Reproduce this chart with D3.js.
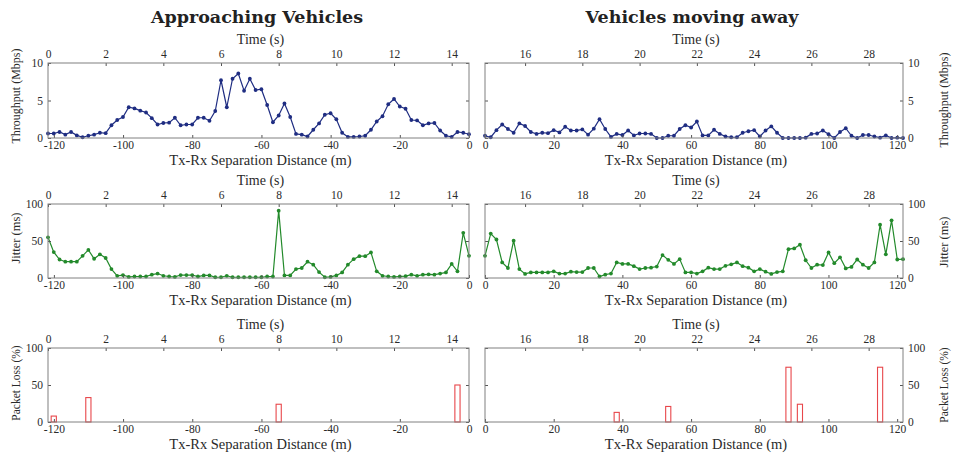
<!DOCTYPE html>
<html>
<head>
<meta charset="utf-8">
<script src="https://cdn.jsdelivr.net/npm/d3@7"></script>
<style>
  html, body { margin: 0; padding: 0; background: #fff; }
  svg { display: block; }
  text { font-family: "Liberation Serif", "Times New Roman", serif; fill: #2a2a2a; }
</style>
</head>
<body>
<svg id="chart" width="953" height="454"></svg>
<script>
// Sampling interval of the measurements (s) and vehicle speed mapping time to Tx-Rx distance
const SAMPLE_STEP = 0.2;
const PASS_TIME = 14.6;          // time at which the vehicle passes the receiver (s)
const PASS_DIST = 121.7;         // distance covered in each half of the run (m)

// Throughput (Mbps), one value every SAMPLE_STEP seconds
const throughputApproach = [
  0.6, 0.6, 0.8, 0.45, 0.8, 0.35, 0.1, 0.3, 0.45, 0.7,
  0.65, 1.7, 2.4, 2.8, 4.1, 3.95, 3.65, 3.4, 2.65, 1.8,
  2.0, 2.05, 2.7, 1.7, 1.8, 1.8, 2.7, 2.7, 2.3, 3.6,
  7.7, 4.1, 7.9, 8.6, 6.3, 7.9, 6.4, 6.5, 4.4, 2.1,
  3.0, 4.6, 2.8, 0.55, 0.45, 0.2, 1.1, 1.95, 3.1, 3.3,
  2.5, 0.7, 0.15, 0.15, 0.2, 0.3, 1.1, 2.2, 2.9, 4.5,
  5.2, 4.2, 3.9, 2.4, 2.35, 1.7, 1.95, 2.0, 1.0, 0.3,
  0.15, 0.8, 0.7, 0.5
];
const throughputAway = [
  0.3, 0.1, 1.05, 1.8, 1.2, 0.7, 1.95, 1.6, 0.8, 0.55,
  0.7, 0.65, 1.05, 0.75, 1.5, 1.0, 1.0, 1.15, 0.45, 1.25,
  2.5, 1.2, 0.15, 0.55, 0.4, 1.0, 0.35, 0.6, 0.6, 0.55,
  0, 0, 0.3, 0.3, 1.2, 1.7, 1.4, 2.2, 0.35, 0.35,
  1.1, 0.55, 0.2, 0.1, 0.1, 0.7, 0.9, 1.05, 0.2, 1.0,
  1.55, 0.7, 0, 0, 0, 0, 0.05, 0.55, 0.6, 1.0,
  0.5, 0, 0.8, 1.3, 0.3, 0, 0.4, 0.4, 0.2, 0.05,
  0.35, 0, 0.05, 0
];

// Jitter (ms)
const jitterApproach = [
  55, 35, 25, 22, 22, 22, 30, 38, 26, 32,
  27, 12, 3, 4, 1.5, 2, 2, 2, 4.5, 6,
  3, 2, 1.5, 4, 4, 4, 2, 3.5, 3.5, 1,
  1, 3, 1, 1, 1, 1, 1, 1, 2, 2,
  91, 3.5, 3.5, 12, 13.5, 22, 18, 8, 1, 1.5,
  3.5, 7.5, 18, 25.5, 29.5, 29.5, 34.5, 9, 3, 2,
  1.5, 2, 2.5, 4.5, 3, 4.5, 5, 4.5, 6, 7.5,
  19, 9, 61, 30
];
const jitterAway = [
  30, 60, 52, 21, 13.5, 50.5, 12, 5.5, 7.5, 7.5,
  7.5, 7.5, 9, 6, 6, 8.5, 8, 8, 13.5, 13.5,
  2, 4.5, 6, 21, 19, 19, 16, 12, 13.5, 14,
  15.5, 31, 24.5, 19, 25.5, 7.5, 7.5, 6, 9, 14,
  12, 12, 16.5, 18.5, 21, 16, 14, 9, 12, 8.5,
  5.5, 8, 9, 39, 40, 45, 24, 13.5, 18, 17.5,
  34.5, 20, 28, 13, 15, 25, 18, 13.5, 21, 72,
  32, 78, 25, 25.5
];

// Packet loss (%) at the instants where losses occurred
const lossApproachTime = [0.2, 1.4, 8.0, 14.2];
const lossApproachValue = [8, 33, 24, 50];
const lossAwayTime = [19.2, 21.0, 25.2, 25.6, 28.4];
const lossAwayValue = [13, 21, 74, 24, 74];

// Tick labels
const timeTicksApproach = [0, 2, 4, 6, 8, 10, 12, 14];
const timeTicksAway = [16, 18, 20, 22, 24, 26, 28];
const distTicksApproach = [-120, -100, -80, -60, -40, -20, 0];
const distTicksAway = [0, 20, 40, 60, 80, 100, 120];
const throughputTicks = [0, 5, 10];
const percentTicks = [0, 50, 100];

const columnTitles = ["Approaching Vehicles", "Vehicles moving away"];
const timeLabel = "Time (s)";
const distLabel = "Tx-Rx Separation Distance (m)";

const COLORS = { throughput: "#1f2d82", jitter: "#238a2b", loss: "#e8474b", box: "#808080", tick: "#555" };

const svg = d3.select("#chart");

const columns = [
  { x0: 48, x1: 469, side: "left",  tDomain: [0, PASS_TIME], dDomain: [-PASS_DIST, 0],
    tTicks: timeTicksApproach, dTicks: distTicksApproach, t0: 0, labelX: 20, titleX: 257 },
  { x0: 485, x1: 903, side: "right", tDomain: [PASS_TIME, 2 * PASS_TIME], dDomain: [0, PASS_DIST],
    tTicks: timeTicksAway, dTicks: distTicksAway, t0: PASS_TIME, labelX: 948, titleX: 692 }
];
const rows = [
  { y0: 63,  y1: 138, key: "throughput", yDomain: [0, 10],  yTicks: throughputTicks, label: "Throughput (Mbps)",
    labelSize: 12, labelY: [96, 100], series: [throughputApproach, throughputAway] },
  { y0: 204, y1: 278, key: "jitter",     yDomain: [0, 100], yTicks: percentTicks,    label: "Jitter (ms)",
    labelSize: 12.5, labelY: [238, 242], series: [jitterApproach, jitterAway] },
  { y0: 348, y1: 422, key: "loss",       yDomain: [0, 100], yTicks: percentTicks,    label: "Packet Loss (%)",
    labelSize: 11.5, labelY: [383, 385], series: [[lossApproachTime, lossApproachValue], [lossAwayTime, lossAwayValue]] }
];

// Column titles
columns.forEach((c, ci) => {
  svg.append("text")
    .attr("x", c.titleX).attr("y", 23)
    .attr("text-anchor", "middle")
    .style("font-family", "'DejaVu Serif', serif")
    .style("font-size", "17.5px").style("font-weight", "bold").style("fill", "#222")
    .text(columnTitles[ci]);
});

const plainNumber = d => String(d);

rows.forEach(r => {
  columns.forEach((c, ci) => {
    const g = svg.append("g");
    const xT = d3.scaleLinear().domain(c.tDomain).range([c.x0, c.x1]);
    const xD = d3.scaleLinear().domain(c.dDomain).range([c.x0, c.x1]);
    const y = d3.scaleLinear().domain(r.yDomain).range([r.y1, r.y0]);
    const cx = (c.x0 + c.x1) / 2;

    // Marks
    if (r.key === "loss") {
      const [times, vals] = r.series[ci];
      const barW = 0.18;
      g.selectAll("rect.bar").data(times.map((t, i) => ({ t, v: vals[i] })))
        .join("rect").attr("class", "bar")
        .attr("x", d => xT(d.t - barW / 2))
        .attr("width", d => xT(d.t + barW / 2) - xT(d.t - barW / 2))
        .attr("y", d => y(d.v))
        .attr("height", d => y(0) - y(d.v))
        .attr("fill", "#fff").attr("stroke", COLORS.loss).attr("stroke-width", 1.1);
    } else {
      const vals = r.series[ci];
      const pts = vals.map((v, i) => ({ t: c.t0 + i * SAMPLE_STEP, v }));
      const line = d3.line().x(d => xT(d.t)).y(d => y(d.v));
      g.append("path").datum(pts)
        .attr("d", line).attr("fill", "none")
        .attr("stroke", COLORS[r.key]).attr("stroke-width", 1.2);
      g.selectAll("circle").data(pts).join("circle")
        .attr("cx", d => xT(d.t)).attr("cy", d => y(d.v)).attr("r", 1.9)
        .attr("fill", COLORS[r.key]);
    }

    // Top axis: time
    const top = g.append("g").attr("transform", `translate(0,${r.y0})`)
      .call(d3.axisTop(xT).tickValues(c.tTicks).tickFormat(plainNumber)
        .tickSizeInner(-3).tickSizeOuter(0).tickPadding(5));
    // Bottom axis: distance
    const bottom = g.append("g").attr("transform", `translate(0,${r.y1})`)
      .call(d3.axisBottom(xD).tickValues(c.dTicks).tickFormat(plainNumber)
        .tickSizeInner(-3).tickSizeOuter(0).tickPadding(3));
    // Value axes: labelled on the outer side, mirrored ticks on the inner side
    const labelled = c.side === "left"
      ? d3.axisLeft(y).tickValues(r.yTicks).tickSizeInner(-3).tickSizeOuter(0).tickPadding(5)
      : d3.axisRight(y).tickValues(r.yTicks).tickSizeInner(-3).tickSizeOuter(0).tickPadding(5);
    const mirrored = c.side === "left"
      ? d3.axisRight(y).tickValues(r.yTicks).tickSizeInner(-3).tickSizeOuter(0).tickFormat("")
      : d3.axisLeft(y).tickValues(r.yTicks).tickSizeInner(-3).tickSizeOuter(0).tickFormat("");
    const yl = g.append("g").attr("transform", `translate(${c.side === "left" ? c.x0 : c.x1},0)`).call(labelled);
    const ym = g.append("g").attr("transform", `translate(${c.side === "left" ? c.x1 : c.x0},0)`).call(mirrored);

    [top, bottom, yl, ym].forEach(a => {
      a.select(".domain").remove();
      a.selectAll(".tick line").attr("stroke", COLORS.tick);
      a.selectAll(".tick text").style("font-family", "'Liberation Serif', serif")
        .style("font-size", "11.5px").attr("fill", "#333");
    });

    // Frame
    g.append("rect")
      .attr("x", c.x0).attr("y", r.y0)
      .attr("width", c.x1 - c.x0).attr("height", r.y1 - r.y0)
      .attr("fill", "none").attr("stroke", COLORS.box).attr("stroke-width", 1);

    // Axis titles
    g.append("text").attr("x", cx + 2).attr("y", r.y0 - 19)
      .attr("text-anchor", "middle").style("font-size", "14px").text(timeLabel);
    g.append("text").attr("x", cx + 2).attr("y", r.y1 + 26.5)
      .attr("text-anchor", "middle").style("font-size", "14.5px").text(distLabel);
    g.append("text")
      .attr("transform", `translate(${c.labelX},${r.labelY[ci]}) rotate(-90)`)
      .attr("text-anchor", "middle").style("font-size", r.labelSize + "px").text(r.label);
  });
});
</script>
</body>
</html>
